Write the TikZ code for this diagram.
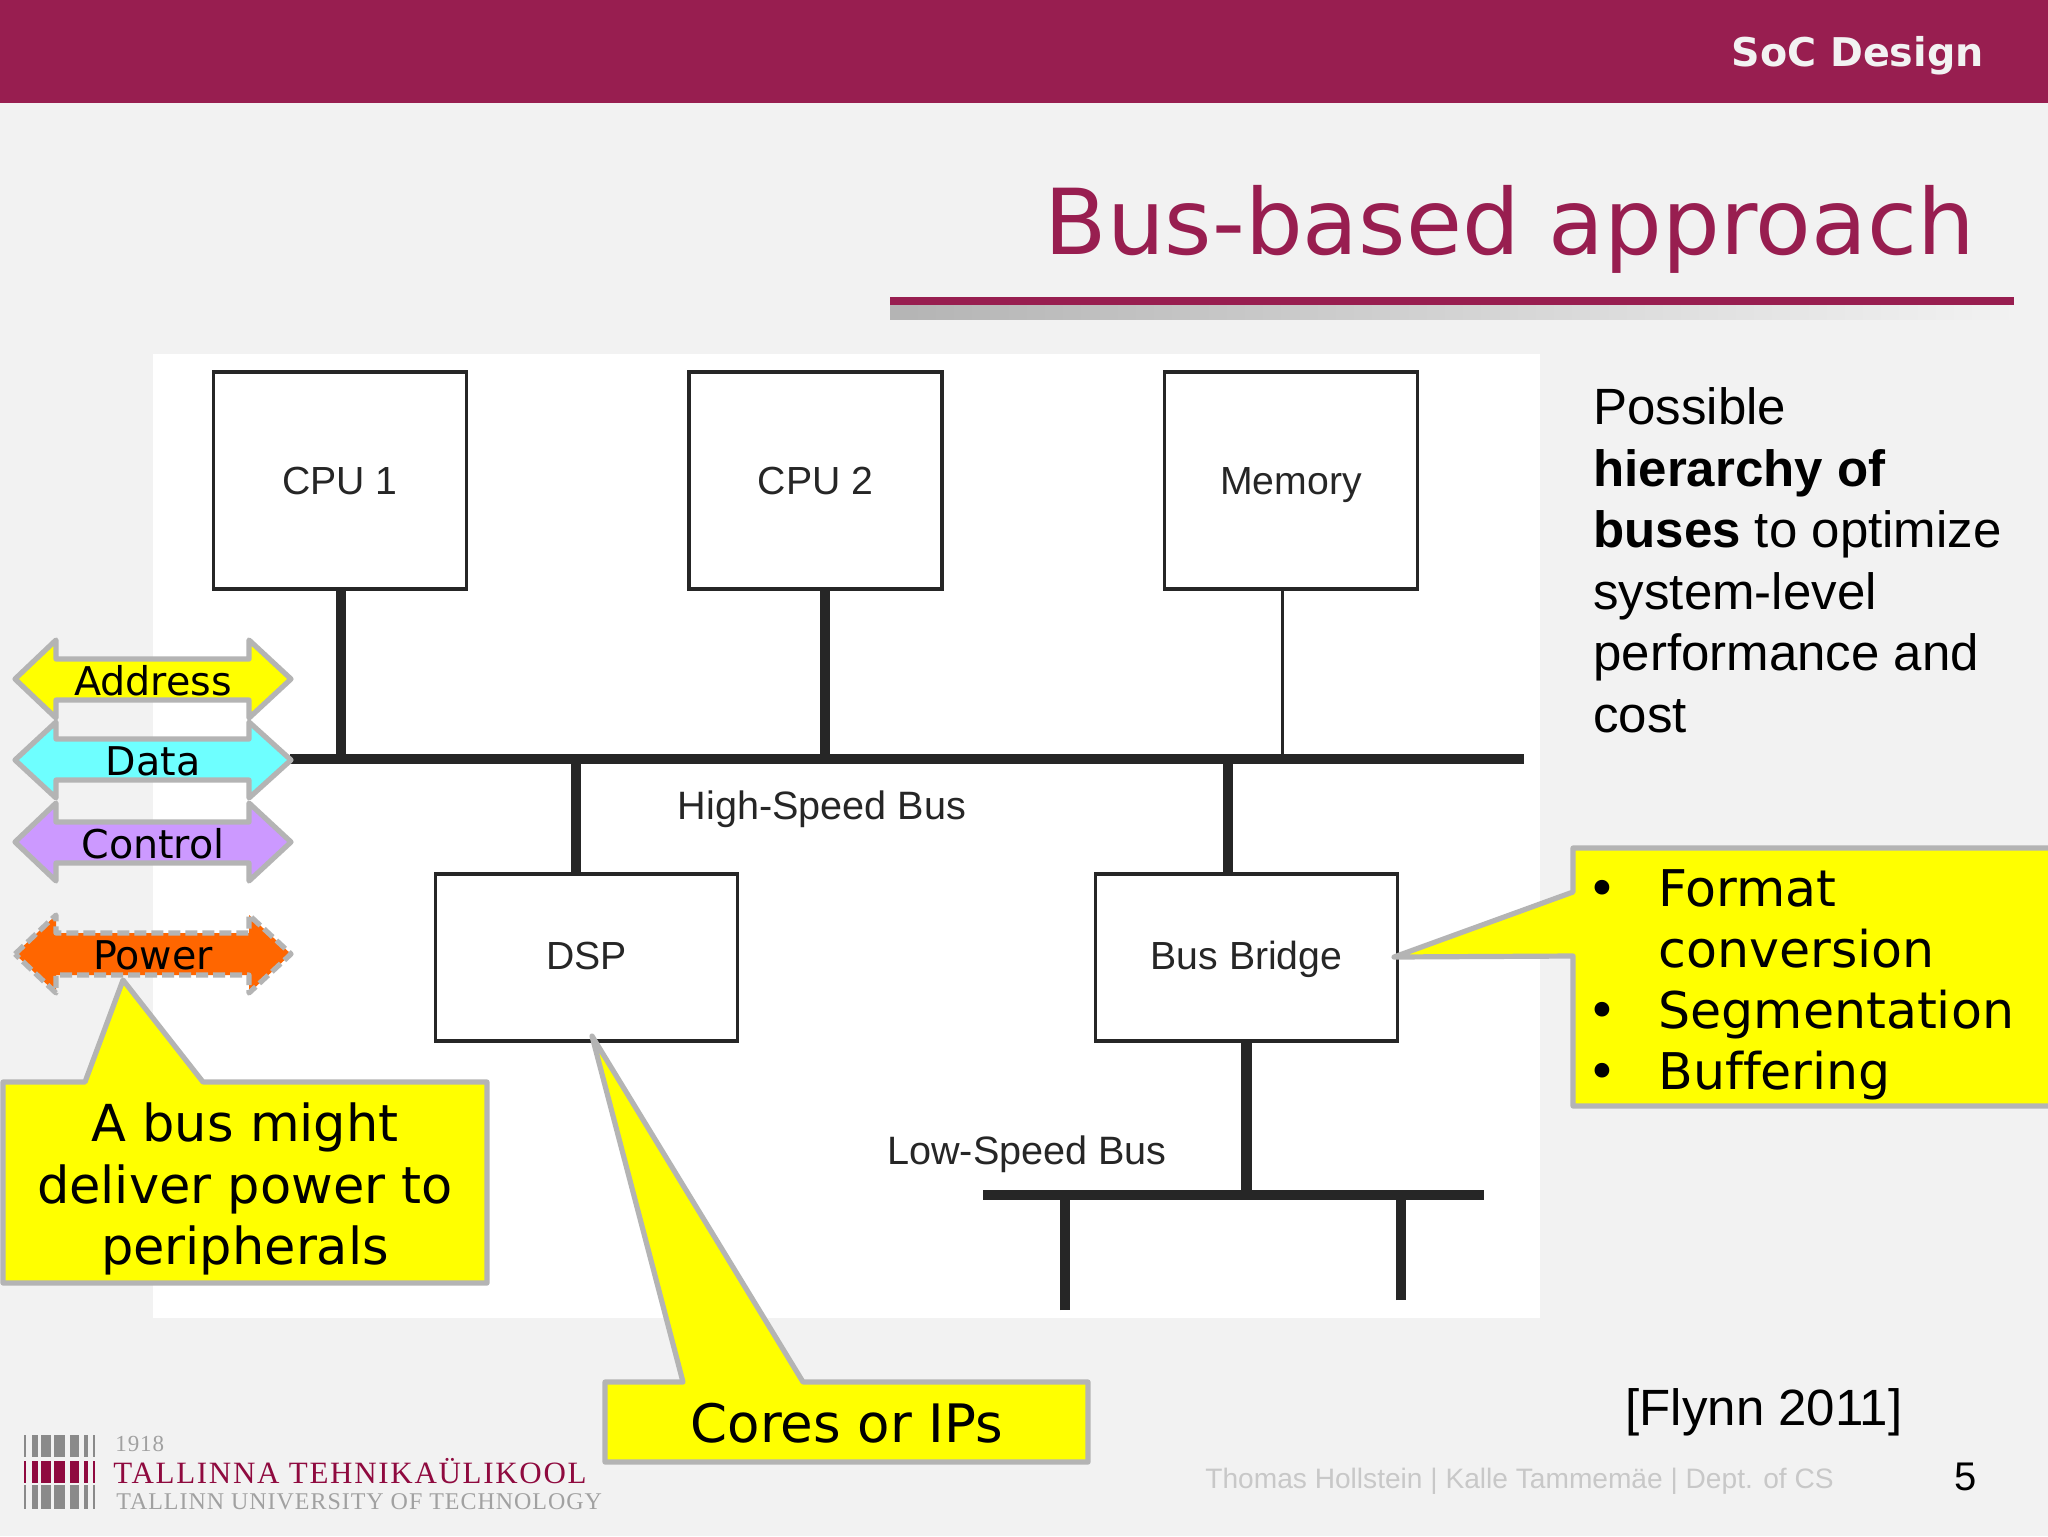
\documentclass[tikz,border=0pt]{standalone}
\usepackage{fontspec}
\setmainfont[Ligatures=NoCommon]{DejaVu Sans}
\newfontfamily\libsans{Liberation Sans}
\newfontfamily\libserif[LetterSpace=5.5]{Liberation Serif}
\newfontfamily\libserifwide[LetterSpace=4]{Liberation Serif}
\definecolor{maroon}{HTML}{981E50}
\definecolor{bgrey}{HTML}{F2F2F2}
\definecolor{outl}{HTML}{B4B4B4}
\definecolor{ink}{HTML}{262626}
\definecolor{logored}{HTML}{8F0A3F}
\definecolor{logogrey}{HTML}{8A8A8A}
\definecolor{noteyellow}{HTML}{FFFF00}
\definecolor{datacyan}{HTML}{6EFFFF}
\definecolor{ctrlviolet}{HTML}{CC99FF}
\definecolor{powerorange}{HTML}{FF6600}
\definecolor{footgrey}{HTML}{C8C8C8}
\newcommand{\fs}[1]{\fontsize{#1}{30.7}\selectfont}
\newcommand{\busarrow}[5]{%
  % #1 style, #2 head top, #3 shaft top, #4 tip, #5 shaft bottom; head bottom derived
  \draw[#1] (15,#4) -- (56,#2) -- (56,#3) -- (249,#3) -- (249,#2) -- (291,#4)
    -- (249,{2*#4-#2}) -- (249,#5) -- (56,#5) -- (56,{2*#4-#2}) -- cycle;}
\tikzset{
  arrowbase/.style={draw=outl,line width=2.6pt,line join=round},
  solidbar/.style={arrowbase},
  dashbar/.style={arrowbase,dash pattern=on 6pt off 2.5pt},
  callout/.style={draw=outl,line width=2.6pt,fill=noteyellow,line join=round},
  blockbox/.style={draw=ink,line width=1.7pt,fill=white,inner sep=0pt,text=ink,font=\libsans\fs{19.6},text height=14pt},
  upperbox/.style={blockbox,text depth=0.5pt},
  lowerbox/.style={blockbox,text depth=2pt},
  buslabel/.style={inner sep=0pt,text=ink,font=\libsans\fs{19.8}},
  busbar/.style={line width=5.2pt,draw=ink},
  tapthick/.style={line width=5.2pt,draw=ink},
  tapthin/.style={line width=1.5pt,draw=ink},
  tag/.style={inner sep=0pt,anchor=base,font=\fs{19.8},text=black},
  notetext/.style={inner sep=0pt,font=\fs{25.5}},
  listtext/.style={inner sep=0pt,font=\fs{25.3}},
  sidetext/.style={inner sep=0pt,anchor=base west,font=\libsans\fs{25.5}}
}
\begin{document}
\begin{tikzpicture}[x=0.5pt,y=-0.5pt]
\useasboundingbox (0,0) rectangle (2048,1536);
\fill[bgrey] (0,0) rectangle (2048,1536);
\fill[maroon] (0,0) rectangle (2048,103);
\node[anchor=base east,inner sep=0pt,text=bgrey,font=\bfseries\fs{19.8}] (soc) at (1984,67) {SoC Design};
\node[anchor=base east,inner sep=0pt,text=maroon,font=\fs{45.5}] (title) at (1975,254) {Bus-based approach};
\shade[left color=outl,right color=bgrey] (890,305) rectangle (2017,319);
\fill[maroon] (890,297) rectangle (2014,305);
% white panel
\fill[white] (153,354) rectangle (1540,1318);
% blocks
\node[upperbox,minimum width=253pt/2,minimum height=217pt/2] (cpu1) at (340,480.5) {CPU 1};
\node[upperbox,minimum width=253pt/2,minimum height=217pt/2] (cpu2) at (815.5,480.5) {CPU 2};
\node[upperbox,minimum width=253pt/2,minimum height=217pt/2] (mem) at (1291,480.5) {Memory};
\node[lowerbox,minimum width=301.5pt/2,minimum height=167pt/2] (dsp) at (586.5,957.5) {DSP};
\node[lowerbox,minimum width=301.5pt/2,minimum height=167pt/2] (bridge) at (1246.5,957.5) {Bus Bridge};
% buses
\coordinate (hsl) at (290,759);
\coordinate (hsr) at (1524,759);
\coordinate (lsl) at (983,1195);
\coordinate (lsr) at (1484,1195);
\coordinate (stubl) at (1065,1310);
\coordinate (stubr) at (1401,1300);
\coordinate (tapa) at (341,589);
\coordinate (tapb) at (825,589);
\coordinate (tapc) at (1282,589);
\coordinate (tapd) at (576,874);
\coordinate (tape) at (1228,874);
\draw[busbar] (hsl) -- (hsr);
\draw[busbar] (lsl) -- (lsr);
\draw[tapthick] (tapa) -- (tapa |- hsl);
\draw[tapthick] (tapb) -- (tapb |- hsl);
\draw[tapthin] (tapc) -- (tapc |- hsl);
\draw[tapthick] (tapd) -- (tapd |- hsl);
\draw[tapthick] (tape) -- (tape |- hsl);
\draw[tapthick] (bridge.south) -- (bridge.south |- lsl);
\draw[tapthick] (stubl) -- (stubl |- lsl);
\draw[tapthick] (stubr) -- (stubr |- lsl);
\node[buslabel] (hslabel) at (822,809) {High-Speed Bus};
\node[buslabel] (lslabel) at (1027,1154) {Low-Speed Bus};
% bus arrows
\busarrow{solidbar,fill=noteyellow}{640}{659}{679}{700}
\busarrow{solidbar,fill=datacyan}{722}{739}{760}{780}
\busarrow{solidbar,fill=ctrlviolet}{803}{822}{842}{863}
\busarrow{dashbar,fill=powerorange}{915}{933}{954}{975}
\node[tag] (addr) at (153,695) {Address};
\node[tag] (data) at (153,775) {Data};
\node[tag] (ctrl) at (153,858) {Control};
\node[tag] (pow) at (153,969) {Power};
% callouts
\coordinate (tipa) at (123,980);
\coordinate (tipb) at (592,1036);
\coordinate (tipc) at (1394,957);
\draw[callout] (3,1082) -- (85,1082) -- (tipa) -- (203,1082) -- (487,1082) -- (487,1283) -- (3,1283) -- cycle;
\draw[callout] (605,1382) -- (683,1382) -- (tipb) -- (803,1382) -- (1088,1382) -- (1088,1462) -- (605,1462) -- cycle;
\draw[callout] (1573,848) -- (2060,848) -- (2060,1106) -- (1573,1106) -- (1573,956) -- (tipc) -- (1573,892) -- cycle;
\node[notetext,align=center,anchor=center] (powernote) at (245,1189) {A bus might\\deliver power to\\peripherals};
\node[inner sep=0pt,anchor=base,font=\fs{26.5}] (corenote) at (847,1442) {Cores or IPs};
\node[listtext,anchor=base] (b1) at (1602,906) {•};
\node[listtext,anchor=base] (b2) at (1602,1028) {•};
\node[listtext,anchor=base] (b3) at (1602,1089) {•};
\node[listtext,anchor=base west] (f1) at (1658,906) {Format};
\node[listtext,anchor=base west] (f2) at (1658,967) {conversion};
\node[listtext,anchor=base west] (f3) at (1658,1028) {Segmentation};
\node[listtext,anchor=base west] (f4) at (1658,1089) {Buffering};
% right text
\node[sidetext] (r1) at (1593,424) {Possible};
\node[sidetext] (r2) at (1593,486) {\textbf{hierarchy of}};
\node[sidetext] (r3) at (1593,547) {\textbf{buses} to optimize};
\node[sidetext] (r4) at (1593,609) {system-level};
\node[sidetext] (r5) at (1593,670) {performance and};
\node[sidetext] (r6) at (1593,732) {cost};
\node[sidetext,anchor=base] (cite) at (1764,1425) {[Flynn 2011]};
\node[inner sep=0pt,anchor=base,font=\libsans\fs{20}] (pageno) at (1966,1490) {5};
\node[inner sep=0pt,anchor=base west,text=footgrey,font=\libsans\fs{14.06}] (foot) at (1205,1488) {Thomas Hollstein | Kalle Tammemäe | Dept. of CS};
% logo
\foreach \xa/\xb in {24/25.5,32/37.5,41/51,54/64.5,69.5/78.5,84/88,93/95}{
  \fill[logogrey] (\xa,1435) rectangle (\xb,1457);
  \fill[logored] (\xa,1461) rectangle (\xb,1483);
  \fill[logogrey] (\xa,1485) rectangle (\xb,1509);
}
\node[inner sep=0pt,anchor=base west,text=logogrey!80,font=\libserifwide\fs{11.5}] (year) at (115,1451) {1918};
\node[inner sep=0pt,anchor=base west,text=logored,font=\libserif\fs{15.5}] (tt) at (113,1483) {TALLINNA TEHNIKAÜLIKOOL};
\node[inner sep=0pt,anchor=base west,text=logogrey!80,font=\libserifwide\fs{12}] (tu) at (116,1509) {TALLINN UNIVERSITY OF TECHNOLOGY};
\end{tikzpicture}
\end{document}
